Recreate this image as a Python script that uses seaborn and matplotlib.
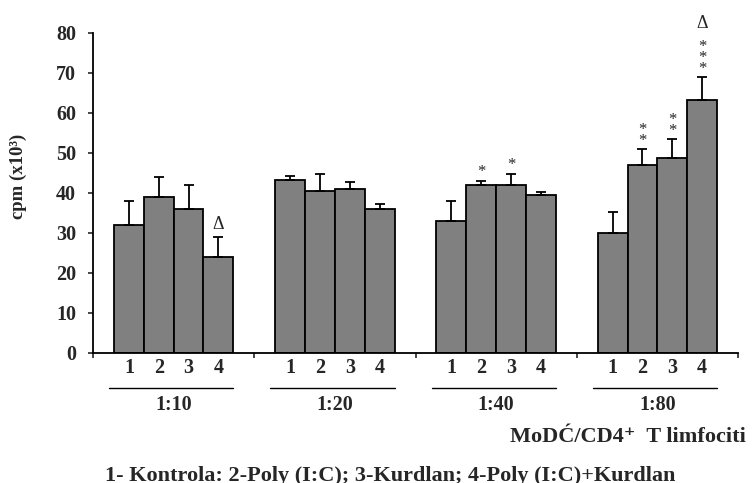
import numpy as np
import pandas as pd
import matplotlib
matplotlib.use("Agg")
import matplotlib.pyplot as plt
import matplotlib.transforms as mtransforms
import seaborn as sns

# data
ratios = ["1:10", "1:20", "1:40", "1:80"]
treatments = ["1", "2", "3", "4"]
means = {
    "1": [32.0, 43.2, 33.0, 30.0],
    "2": [39.0, 40.5, 42.0, 47.0],
    "3": [36.0, 41.0, 42.0, 48.8],
    "4": [24.0, 36.0, 39.5, 63.2],
}
errs = {
    "1": [6.0, 1.1, 5.0, 5.3],
    "2": [5.0, 4.2, 1.0, 4.0],
    "3": [6.0, 1.8, 2.7, 4.6],
    "4": [5.0, 1.2, 0.7, 5.8],
}
stars = {
    "1": [0, 0, 0, 0],
    "2": [0, 0, 1, 2],
    "3": [0, 0, 1, 2],
    "4": [0, 0, 0, 3],
}
deltas = {
    "1": [0, 0, 0, 0],
    "2": [0, 0, 0, 0],
    "3": [0, 0, 0, 0],
    "4": [1, 0, 0, 1],
}
yticks = [0, 10, 20, 30, 40, 50, 60, 70, 80]
xlabel = "MoDĆ/CD4⁺  T limfociti"
legend_text = "1- Kontrola: 2-Poly (I:C); 3-Kurdlan; 4-Poly (I:C)+Kurdlan"

rows = []
for t in treatments:
    for i, r in enumerate(ratios):
        rows.append({"ratio": r, "treat": t, "cpm": means[t][i]})
df = pd.DataFrame(rows)

sns.set_style("ticks")
serif = ["Liberation Serif", "DejaVu Serif"]
plt.rcParams["font.family"] = serif
plt.rcParams["font.weight"] = "bold"

fig = plt.figure(figsize=(7.52, 4.83), dpi=100)
ax = fig.add_axes([93 / 752, 1 - 353 / 483, 645 / 752, 320 / 483])

sns.barplot(data=df, x="ratio", y="cpm", hue="treat", order=ratios,
            hue_order=treatments, palette=["#808080"] * 4, width=0.74,
            gap=0, errorbar=None, edgecolor="black", linewidth=1.3,
            saturation=1, legend=False, ax=ax)

# error bars (upper only), subgroup labels, annotations
xt = mtransforms.blended_transform_factory(ax.transData, ax.transAxes)
for t, cont in zip(treatments, ax.containers):
    xs = [b.get_x() + b.get_width() / 2 for b in cont]
    hs = [b.get_height() for b in cont]
    e = errs[t]
    ax.errorbar(xs, hs, yerr=[np.zeros(len(e)), e], fmt="none",
                ecolor="black", elinewidth=1.3, capsize=3.5, capthick=1.3)
    for x, h, ee, ns, nd in zip(xs, hs, e, stars[t], deltas[t]):
        ax.text(x, -0.048, t, transform=xt, ha="center", va="center",
                fontsize=14.5, fontweight="bold")
        top = h + ee
        if ns:
            mid = 13 + 10 * (ns - 1) / 2
            ax.annotate("\n".join(["*"] * ns), (x, top),
                        xytext=(0, mid / 1.389 - 3), textcoords="offset points",
                        ha="center", va="center", fontsize=12,
                        fontweight="normal", linespacing=0.6,
                        annotation_clip=False)
        if nd:
            off = 13 + 10 * ns + (11 if ns else 0)
            ax.annotate("Δ", (x, top), xytext=(0, off / 1.389),
                        textcoords="offset points", ha="center", va="center",
                        fontsize=13, fontweight="normal", annotation_clip=False)

# group underline and ratio label
for i, r in enumerate(ratios):
    ax.plot([i - 0.4, i + 0.37], [-0.108, -0.108], transform=xt, color="black",
            lw=1.0, clip_on=False)
    ax.text(i, -0.164, r, transform=xt, ha="center", va="center",
            fontsize=14.5, fontweight="bold")

ax.set_xlim(-0.5, 3.5)
ax.set_ylim(0, 80)
ax.set_yticks(yticks)
ax.set_xticks([-0.5, 0.5, 1.5, 2.5, 3.5])
ax.set_xticklabels([])
ax.set_xlabel("")
ax.set_ylabel("")
ax.tick_params(axis="y", length=3.6, width=1.2, pad=8.6, labelsize=14.5)
ax.tick_params(axis="x", length=3.6, width=1.2)
for lab in ax.get_yticklabels():
    lab.set_fontweight("bold")
sns.despine(ax=ax)
for s in ["left", "bottom"]:
    ax.spines[s].set_linewidth(1.3)
    ax.spines[s].set_color("black")

fig.text(18 / 752, 1 - 176 / 483, "cpm (x10³)", rotation=90, ha="center",
         va="center", fontsize=13.5, fontweight="bold")
fig.text(746 / 752, 1 - 437 / 483, xlabel, ha="right", va="center",
         fontsize=16, fontweight="bold", family=serif)
fig.text(390 / 752, 1 - 481 / 483, legend_text, ha="center", va="baseline",
         fontsize=16, fontweight="bold")

fig.savefig("out.png", dpi=100)
